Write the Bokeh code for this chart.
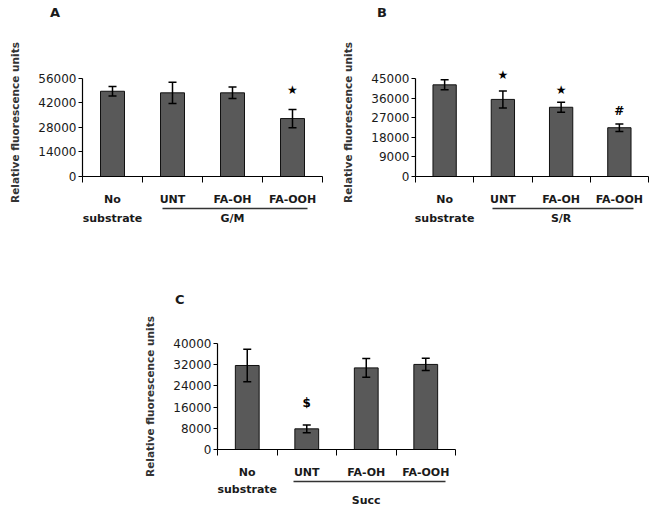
from bokeh.plotting import figure
from bokeh.models import (Range1d, FixedTicker, Whisker, ColumnDataSource, Label,
                          TeeHead, Spacer, NumeralTickFormatter, LinearAxis, Div)
from bokeh.layouts import column, row
from bokeh.embed import file_html
from bokeh.resources import INLINE

# ---------------- data ----------------
categories = ["No", "UNT", "FA-OH", "FA-OOH"]
first_sub = "substrate"   # second line of the first category label

a_means = [48700, 47800, 47800, 33100]
a_errs = [2700, 6100, 3300, 5200]
a_ticks = [0, 14000, 28000, 42000, 56000]
a_group = "G/M"
a_marks = [("FA-OOH", "\u2605", 49700)]

b_means = [42100, 35400, 31800, 22400]
b_errs = [2300, 3900, 2300, 1750]
b_ticks = [0, 9000, 18000, 27000, 36000, 45000]
b_group = "S/R"
b_marks = [("UNT", "\u2605", 46800), ("FA-OH", "\u2605", 39900), ("FA-OOH", "#", 30300)]

c_means = [31700, 7800, 30800, 32100]
c_errs = [6100, 1450, 3500, 2300]
c_ticks = [0, 8000, 16000, 24000, 32000, 40000]
c_group = "Succ"
c_marks = [("UNT", "$", 17400)]

FONT = "DejaVu Sans"


def panel(means, errs, ticks, group, marks, W, H, bl, bt, br, bb, ytop,
          line_x0, line_x1, drop_group=False):
    p = figure(width=W, height=H, x_range=Range1d(0, 4), y_range=Range1d(0, ytop),
               output_backend="svg", toolbar_location=None,
               min_border_left=bl, min_border_right=br,
               min_border_top=bt, min_border_bottom=bb)
    p.outline_line_color = None
    p.xgrid.visible = False
    p.ygrid.visible = False
    p.background_fill_color = "white"
    p.border_fill_color = "white"

    xs = [i + 0.5 for i in range(len(categories))]
    src = ColumnDataSource(dict(
        x=xs, top=means,
        upper=[m + e for m, e in zip(means, errs)],
        lower=[m - e for m, e in zip(means, errs)],
    ))
    p.vbar(x="x", top="top", width=0.4, source=src,
           fill_color="#595959", line_color="#111111", line_width=1)
    p.add_layout(Whisker(source=src, base="x", upper="upper", lower="lower",
                         level="overlay",
                         line_color="black", line_width=1.5,
                         upper_head=TeeHead(size=8, line_color="black", line_width=1.5),
                         lower_head=TeeHead(size=8, line_color="black", line_width=1.5)))

    # x axis: labels at centres, tick marks at category boundaries
    xa = p.xaxis[0]
    xa.ticker = FixedTicker(ticks=xs, minor_ticks=[0, 1, 2, 3, 4])
    xa.major_label_overrides = {x: c for x, c in zip(xs, categories)}
    xa.major_tick_line_color = None
    xa.major_tick_out = 0
    xa.major_tick_in = 0
    xa.minor_tick_in = 0
    xa.minor_tick_out = 6
    xa.minor_tick_line_color = "black"
    xa.axis_line_color = "black"
    xa.axis_line_width = 1.2
    xa.major_label_standoff = 10
    xa.major_label_text_font = FONT
    xa.major_label_text_font_style = "bold"
    xa.major_label_text_font_size = "11px"
    xa.major_label_text_color = "#1a1a1a"

    # second x axis: group underline (bounded axis line) + group label
    xg = LinearAxis(ticker=FixedTicker(ticks=[xs[0], 2.5], minor_ticks=[]),
                    bounds=(line_x0, line_x1))
    glabel = ("\n" + group) if drop_group else group
    xg.major_label_overrides = {xs[0]: first_sub, 2.5: glabel}
    xg.major_tick_line_color = None
    xg.major_tick_out = 0
    xg.major_tick_in = 0
    xg.minor_tick_line_color = None
    xg.axis_line_color = "#333333"
    xg.axis_line_width = 1.5
    xg.major_label_standoff = 1 if drop_group else 3
    xg.major_label_text_font = FONT
    xg.major_label_text_font_style = "bold"
    xg.major_label_text_font_size = "11px"
    xg.major_label_text_color = "#1a1a1a"
    if drop_group:
        xg.major_label_text_line_height = 0.85
    p.add_layout(xg, "below")

    ya = p.yaxis[0]
    ya.ticker = FixedTicker(ticks=ticks)
    ya.bounds = (0, ticks[-1])
    ya.formatter = NumeralTickFormatter(format="0")
    ya.minor_tick_line_color = None
    ya.major_tick_in = 0
    ya.major_tick_out = 4
    ya.major_tick_line_color = "black"
    ya.axis_line_color = "black"
    ya.axis_line_width = 1.2
    ya.major_label_standoff = 2
    ya.major_label_text_font = FONT
    ya.major_label_text_font_size = "12px"
    ya.major_label_text_color = "#1a1a1a"
    ya.axis_label = "Relative fluorescence units"
    ya.axis_label_text_font = FONT
    ya.axis_label_text_font_style = "bold"
    ya.axis_label_text_font_size = "10.5px"
    ya.axis_label_text_color = "#333333"
    ya.axis_label_standoff = 14

    # significance marks
    for cat, sym, yv in marks:
        i = categories.index(cat)
        p.add_layout(Label(x=xs[i], y=yv, text=sym, text_align="center",
                           text_baseline="middle", text_font=FONT,
                           text_font_size="12px", text_font_style="bold",
                           text_color="black"))
    return p


def letter_div(letter, W, H, pad_left, pad_top):
    html = ('<div style="padding-left:%dpx;padding-top:%dpx;font-family:\'DejaVu Sans\';'
            'font-size:13px;font-weight:bold;line-height:26px;color:#1a1a1a">%s</div>'
            % (pad_left, pad_top, letter))
    return Div(text=html, width=W, height=H, margin=(0, 0, 0, 0))


pa = panel(a_means, a_errs, a_ticks, a_group, a_marks,
           W=330, H=214, bl=82, bt=42, br=8, bb=64, ytop=61700,
           line_x0=1.33, line_x1=3.75)
pb = panel(b_means, b_errs, b_ticks, b_group, b_marks,
           W=323, H=214, bl=85, bt=42, br=5, bb=64, ytop=49600,
           line_x0=1.33, line_x1=3.74)
pc = panel(c_means, c_errs, c_ticks, c_group, c_marks,
           W=335, H=196, bl=87, bt=30, br=10, bb=60, ytop=40000,
           line_x0=1.28, line_x1=3.83, drop_group=True)

layout = column(
    row(column(letter_div("A", 330, 26, 50, 0), pa),
        column(letter_div("B", 323, 26, 47, 0), pb)),
    row(Spacer(width=130, height=269, margin=(0, 0, 0, 0)),
        column(letter_div("C", 335, 73, 45, 47), pc)),
)

with open("out.html", "w") as f:
    f.write(file_html(layout, INLINE))
